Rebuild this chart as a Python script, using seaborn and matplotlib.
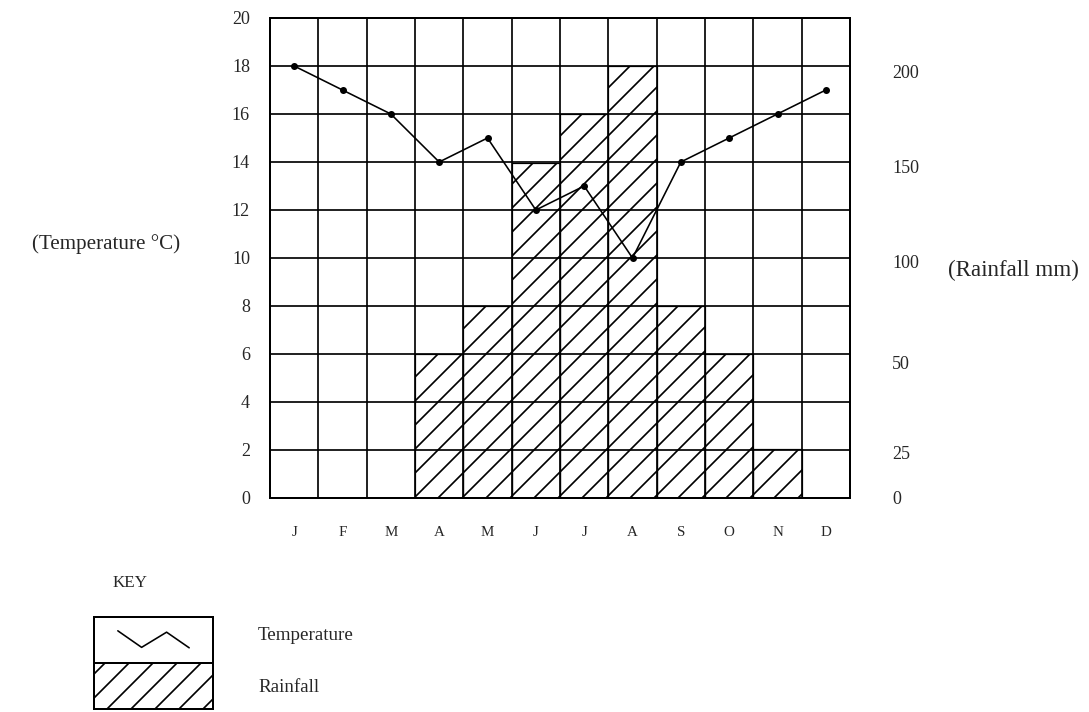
import numpy as np
import matplotlib
matplotlib.use('Agg')
import matplotlib.pyplot as plt
from matplotlib.patches import Rectangle
import seaborn as sns

# data ========================================================================
months = ['Jan', 'Feb', 'Mar', 'Apr', 'May', 'Jun', 'Jul', 'Aug', 'Sep', 'Oct', 'Nov', 'Dec']
month_labels = ['J', 'F', 'M', 'A', 'M', 'J', 'J', 'A', 'S', 'O', 'N', 'D']
temperature = [18, 17, 16, 14, 15, 12, 13, 10, 14, 15, 16, 17]
rainfall = [0, 0, 0, 54, 78, 152, 178, 203, 78, 54, 26, 0]

temp_ticks = list(range(0, 21, 2))
# the rainfall scale is not linear: where each mm label sits against the temperature grid
rain_ticks = [0, 25, 50, 100, 150, 200]
rain_knots_mm = [0, 25, 50, 100, 150, 200, 250]
rain_knots_pos = [0, 1.9, 5.65, 9.85, 13.8, 17.75, 21.7]

# style =======================================================================
sns.set_theme(style='white')
plt.rcParams['font.family'] = ['Liberation Serif', 'DejaVu Serif']
plt.rcParams['hatch.linewidth'] = 0.85

DPI = 144
W, H = 1089, 712
fig = plt.figure(figsize=(W / DPI, H / DPI), dpi=DPI)

def px(x0, y0, x1, y1):
    return [x0 / W, 1 - y1 / H, (x1 - x0) / W, (y1 - y0) / H]

ax = fig.add_axes(px(270, 18, 850, 498))
ax2 = ax.twinx()

# rainfall bars on the right (non-linear) axis
def fwd(v):
    return np.interp(v, rain_knots_mm, rain_knots_pos)

def inv(v):
    return np.interp(v, rain_knots_pos, rain_knots_mm)

ax2.set_yscale('function', functions=(fwd, inv))
sns.barplot(x=months, y=rainfall, ax=ax2, width=1, fill=False, color='black',
            hatch='//', linewidth=0.6)
ax2.set_ylim(0, float(inv(20)))
ax2.set_yticks(rain_ticks, [str(t) for t in rain_ticks])
ax2.tick_params(axis='y', length=0, pad=21, labelsize=9)
ax2.set_ylabel('')
ax2.grid(False)

# temperature line
ax.set_zorder(ax2.get_zorder() + 1)
ax.patch.set_visible(False)
sns.lineplot(x=np.arange(12), y=temperature, ax=ax, color='black', linewidth=0.8,
             marker='o', markersize=3.5, markeredgewidth=0)

ax.set_xlim(-0.5, 11.5)
ax.set_ylim(0, 20)
ax.set_yticks(temp_ticks)
ax.set_xticks(np.arange(12), month_labels)
ax.set_xticks(np.arange(-0.5, 12, 1), minor=True)
ax.tick_params(axis='y', length=0, pad=10, labelsize=9)
ax.tick_params(axis='x', which='both', length=0, pad=14, labelsize=7.5)
ax.grid(True, axis='y', which='major', color='black', linewidth=0.85)
ax.grid(True, axis='x', which='minor', color='black', linewidth=0.85)
ax.grid(False, axis='x', which='major')
for sp in ax.spines.values():
    sp.set_color('black')
    sp.set_linewidth(1.0)
for sp in ax2.spines.values():
    sp.set_visible(False)

fig.text(180 / W, 1 - 244 / H, '(Temperature °C)', ha='right', va='center', fontsize=10.5)
fig.text(948 / W, 1 - 270 / H, '(Rainfall mm)', ha='left', va='center', fontsize=11.5)

# key =========================================================================
fig.text(130 / W, 1 - 583 / H, 'KEY', ha='center', va='center', fontsize=8.5)
kax = fig.add_axes(px(94, 617, 213, 709))
kax.set_xlim(0, 1)
kax.set_ylim(0, 1)
kax.set_xticks([])
kax.set_yticks([])
kax.add_patch(Rectangle((0, 0), 1, 0.5, fill=False, hatch='//', edgecolor='black', linewidth=0))
kax.axhline(0.5, color='black', linewidth=1.0)
kax.plot([0.2, 0.4, 0.61, 0.8], [0.85, 0.67, 0.835, 0.665], color='black', linewidth=0.8)
for sp in kax.spines.values():
    sp.set_color('black')
    sp.set_linewidth(1.0)
fig.text(258 / W, 1 - 636 / H, 'Temperature', ha='left', va='center', fontsize=9.5)
fig.text(258 / W, 1 - 687 / H, 'Rainfall', ha='left', va='center', fontsize=9.5)

fig.savefig('out.png', dpi=DPI, facecolor='white')
